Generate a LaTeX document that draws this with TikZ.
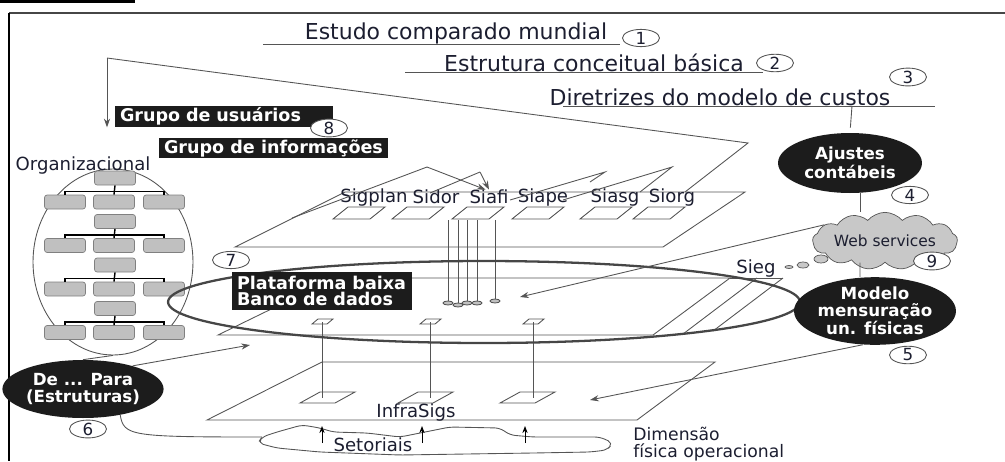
\documentclass[tikz,border=0pt]{standalone}
\usepackage{fontspec}
\setmainfont{DejaVu Sans}
\usetikzlibrary{shapes.geometric, shapes.symbols, arrows.meta, calc}
\definecolor{inkdark}{RGB}{28, 30, 48}
\definecolor{linegray}{RGB}{85, 85, 85}
\definecolor{ringgray}{RGB}{70, 70, 70}
\definecolor{boxgray}{RGB}{192, 192, 192}
\definecolor{cloudgray}{RGB}{200, 200, 200}
\definecolor{ovalblack}{RGB}{28, 28, 28}

\begin{document}
\begin{tikzpicture}[
    x=0.02cm, y=-0.02cm,
    heading/.style={font=\fontsize{12.5}{14}\selectfont, text=inkdark, inner sep=0pt},
    smalltext/.style={font=\fontsize{10.3}{12}\selectfont, text=inkdark, inner sep=0pt},
    darkbox/.style={rectangle, fill=ovalblack, text=white, font=\bfseries\fontsize{10}{9.2}\selectfont, align=left, inner xsep=0.1cm, inner ysep=0pt},
    darkoval/.style={ellipse, fill=ovalblack, text=white, font=\bfseries\fontsize{9.5}{9.4}\selectfont, align=center, inner sep=0pt},
    numtag/.style={ellipse, draw=linegray, fill=white, line width=0.5pt, minimum width=0.74cm, minimum height=0.34cm, inner sep=0pt, font=\fontsize{9.5}{10}\selectfont, text=inkdark},
    orgbox/.style={rectangle, rounded corners=1.5pt, draw=gray, fill=boxgray, minimum width=0.82cm, minimum height=0.28cm, inner sep=0pt},
    orgline/.style={draw=black, line width=0.8pt},
    thinline/.style={draw=linegray, line width=0.5pt},
    arrowline/.style={thinline, -{Stealth[length=5pt, width=3.5pt]}}
]
\useasboundingbox (0,0) rectangle (1005,461);

% Frame
\fill[black] (0,0) rectangle (135,3);
\draw[line width=1.2pt, draw=ringgray] (9,13) -- (1005,13);
\draw[line width=1.2pt, draw=black] (9,13) -- (9,461);

% Headings
\node[heading] (estudo) at (456,33) {Estudo comparado mundial};
\node[heading] (estrutura) at (594,63) {Estrutura conceitual básica};
\node[heading] (diretrizes) at (720,97) {Diretrizes do modelo de custos};
\draw[thinline] (263,44) -- (620,44);
\draw[thinline] (405,72) -- (763,72);
\draw[thinline] (563,106) -- (935,106);
\coordinate (dirtick) at (852,106);

% Upper plane
\draw[thinline] (235,247) -- (663,247) -- (745,192) -- (345,192) -- cycle;
\foreach \x in {333,392,452,512,580,633}
  \draw[thinline] (\x,219) -- ++(37,0) -- ++(15,-12) -- ++(-37,0) -- cycle;
\foreach \x/\name/\txt in {374/sigplan/Sigplan, 436/sidor/Sidor, 489/siafi/Siafi, 543/siape/Siape, 615/siasg/Siasg, 672/siorg/Siorg}
  \node[smalltext] (\name) at (\x,197) {\txt};

% Roof lines
\coordinate (apex) at (107,58);
\coordinate (rightpeak) at (748,143);
\draw[thinline] (apex) -- (rightpeak) -- (685,192);
\draw[thinline] (292,218) -- (427,167);
\draw[arrowline] (427,167) -- (siafi.115);
\draw[thinline] (430,193) -- (480,172);
\draw[arrowline] (480,172) -- (siafi.north);
\draw[thinline] (510,200) -- (605,172) -- (590,182);
\draw[thinline] (563,200) -- (672,167) -- (640,192);

% Siafi links
\foreach \x/\yb in {448/303, 458/305, 467/303, 477/303, 495/301} {
  \draw[thinline] (\x,220) -- (\x,\yb);
  \draw[thinline, fill=boxgray] (\x,\yb) ellipse [x radius=0.1cm, y radius=0.04cm];
}

% Middle plane
\draw[thinline] (218,335) -- (653,335) -- (730,278) -- (335,278) -- cycle;
\draw[thinline] (730,278) -- (783,278);
\draw[thinline] (757,278) -- (683,334);
\draw[thinline] (783,278) -- (713,331);

% Bottom plane
\draw[thinline] (207,420) -- (637,420) -- (715,362) -- (322,362) -- cycle;
\foreach \x in {300,398,500}
  \draw[thinline] (\x,403) -- ++(35,0) -- ++(20,-11) -- ++(-35,0) -- cycle;
\foreach \x in {322,430,533} {
  \draw[thinline] (\x,322) -- (\x,398);
  \draw[thinline] (\x-10,324) -- ++(15,0) -- ++(6,-5) -- ++(-15,0) -- cycle;
}
\node[smalltext] (infrasigs) at (416,412) {InfraSigs};

% Organizational chart
\node[ellipse, draw=linegray, line width=0.5pt, minimum width=3.2cm, minimum height=3.72cm, inner sep=0pt] (org) at (113,262) {};
\foreach \i/\y in {1/178, 2/221.5, 3/265, 4/308.5} {
  \node[orgbox] (orgtop\i) at (115,\y) {};
  \node[orgbox] (orgl\i) at (65,\y+24) {};
  \node[orgbox] (orgm\i) at (114,\y+24) {};
  \node[orgbox] (orgr\i) at (164,\y+24) {};
  \draw[orgline] (orgtop\i.south) -- (orgm\i.north);
  \draw[orgline] (orgl\i.north) -- ++(0,-3) -| (orgr\i.north);
}
\node[smalltext] (organizacional) at (83,165) {Organizacional};

% Ring
\node[ellipse, draw=ringgray, line width=1.3pt, minimum width=12.64cm, minimum height=1.64cm, inner sep=0pt] (ring) at (484,302) {};

% Black labels
\node[darkbox, text width=4.16cm, minimum height=0.42cm] (usuarios) at (224,116.5) {Grupo de usuários};
\node[darkbox, minimum width=4.46cm, minimum height=0.40cm] (informacoes) at (273.5,148) {Grupo de informações};
\node[darkbox, text width=3.4cm, minimum height=0.76cm] (plataforma) at (322,291) {Plataforma baixa\\Banco de dados};
\draw[arrowline] (apex) -- (apex |- usuarios.south);

% Ovals
\node[darkoval, minimum width=2.88cm, minimum height=1.2cm] (ajustes) at (850,163) {Ajustes\\contábeis};
\node[darkoval, minimum width=3.12cm, minimum height=1.28cm] (modelo) at (875,311) {Modelo\\mensuração\\un. físicas};
\node[darkoval, minimum width=2.86cm, minimum height=1.16cm] (depara) at (83,389) {De ... Para\\(Estruturas)};

% Web services
\node[cloud, cloud puffs=13, cloud puff arc=100, aspect=3.4, draw=linegray, fill=cloudgray, minimum width=2.5cm, minimum height=0.72cm, inner sep=0pt, font=\fontsize{8.8}{10}\selectfont, text=inkdark] (web) at (885,241) {Web services};
\node[ellipse, draw=linegray, fill=cloudgray, minimum width=0.28cm, minimum height=0.16cm, inner sep=0pt] (bubblea) at (821,259) {};
\node[ellipse, draw=linegray, fill=cloudgray, minimum width=0.24cm, minimum height=0.12cm, inner sep=0pt] (bubbleb) at (803,265) {};
\node[ellipse, draw=linegray, fill=cloudgray, minimum width=0.16cm, minimum height=0.06cm, inner sep=0pt] (bubblec) at (789,267) {};
\node[smalltext] (sieg) at (756,268) {Sieg};

% Connectors
\draw[thinline, shorten >=0.1cm] (dirtick) -- (ajustes.north);
\draw[thinline] ($(ajustes.south)+(10,0)$) -- ($(web.north)+(-25,0)$);
\draw[thinline] ($(web.south)+(-25,0)$) -- ($(modelo.north)+(-15,0)$);
\coordinate (webtip) at (520,297);
\coordinate (modtip) at (590,400);
\coordinate (deparatip) at (250,345);
\draw[arrowline] (web.165) -- (webtip);
\draw[arrowline] (modelo.250) -- (modtip);
\draw[arrowline] (depara.25) -- (deparatip);
\draw[thinline] (org.south) -- (depara.north);

% Setoriais
\coordinate (cloudleft) at (262,437);
\draw[thinline] (depara.-35) .. controls (124,436) and (130,437) .. (cloudleft);
\draw[thinline, rounded corners=3pt] (cloudleft) -- (277,432) -- (302,425) -- (320,428) -- (333,432) -- (367,433) -- (400,437) -- (420,433) -- (450,427) -- (500,428) -- (510,435) -- (533,437) -- (600,437) -- (613,443) -- (607,450) -- (590,452) -- (533,453) -- (400,455) -- (320,452) -- (277,448) -- (258,443) -- cycle;
\foreach \x in {322,422,525}
  \draw[draw=black, line width=0.5pt, -{Stealth[length=4pt, width=3pt]}] (\x,443) -- (\x,426);
\node[smalltext] (setoriais) at (373,445) {Setoriais};
\node[smalltext, font=\fontsize{9.8}{9.6}\selectfont, align=left, anchor=west] (dimensao) at (633,444) {Dimensão\\física operacional};

% Numbers
\node[numtag] (n1) at (641,38) {1};
\node[numtag] (n2) at (775,63) {2};
\node[numtag] (n3) at (908,77) {3};
\node[numtag] (n4) at (910,195) {4};
\node[numtag] (n5) at (908,355) {5};
\node[numtag] (n6) at (88,429) {6};
\node[numtag] (n7) at (231,260) {7};
\node[numtag] (n8) at (329,128) {8};
\node[numtag] (n9) at (932,261) {9};
\end{tikzpicture}
\end{document}
